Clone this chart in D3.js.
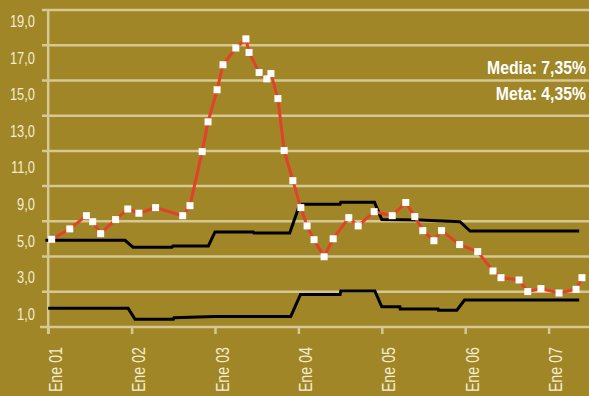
<!DOCTYPE html>
<html>
<head>
<meta charset="utf-8">
<script src="https://cdn.jsdelivr.net/npm/d3@7"></script>
<style>
  body { margin: 0; background: #a08626; }
  svg { display: block; }
</style>
</head>
<body>
<div id="chart"></div>
<script>
// Chart size (browser window)
const W = 589, H = 396;

// Inflation (red line) - months since Ene 01 and values (%)
const inflMonths = [0.5, 3.1, 5.5, 6.4, 7.55, 9.7, 11.45, 13.05, 15.45, 19.35, 20.4, 22.15, 23.0, 24.3,
  25.15, 27.0, 28.45, 28.9, 30.35, 31.45, 32.05, 33.05, 33.95, 35.2, 36.35, 37.25, 38.25, 39.7, 41.0,
  43.25, 44.6, 46.9, 49.5, 51.45, 52.75, 53.9, 55.5, 56.6, 59.2, 61.8, 64.0, 65.15, 67.75, 69.0, 70.9,
  73.5, 75.95, 76.8];
const inflValues = [5.98, 6.57, 7.32, 6.98, 6.30, 7.10, 7.70, 7.46, 7.78, 7.32, 7.89, 10.96, 12.65, 14.47,
  15.89, 16.84, 17.36, 16.59, 15.45, 15.09, 15.39, 13.97, 11.02, 9.31, 7.78, 6.74, 5.96, 4.99, 6.01,
  7.21, 6.74, 7.55, 7.32, 8.07, 7.27, 6.47, 5.90, 6.47, 5.68, 5.28, 4.18, 3.80, 3.67, 3.01, 3.18,
  2.93, 3.14, 3.80];

// Upper limit of the target band
const upperMonths = [-0.4, 11.05, 12.2, 17.8, 17.95, 23.05, 24.0, 29.5, 29.6, 34.75, 36.2, 42.0, 42.1,
  46.95, 48.0, 53.5, 59.25, 60.7, 76.4];
const upperValues = [5.92, 5.92, 5.53, 5.53, 5.6, 5.6, 6.4, 6.4, 6.34, 6.34, 7.97, 7.97, 8.08,
  8.08, 7.1, 7.08, 6.98, 6.45, 6.45];

// Lower limit of the target band
const lowerMonths = [0, 11.5, 12.5, 18.0, 18.1, 24.0, 34.9, 36.3, 42.0, 42.1, 47.0, 48.0, 50.6, 50.65,
  56.1, 56.15, 58.8, 59.9, 76.4];
const lowerValues = [2.06, 2.06, 1.44, 1.44, 1.53, 1.59, 1.6, 2.85, 2.85, 3.05, 3.05, 2.15, 2.15, 2.02,
  2.02, 1.95, 1.95, 2.53, 2.53];

// Axis labels
const yGridValues = [3, 5, 7, 9, 11, 13, 15, 17, 19];
const yLabels = ["19,0", "17,0", "15,0", "13,0", "11,0", "9,0", "5,0", "3,0", "1,0"];
const xTickMonths = [0, 12, 24, 36, 48, 60, 72];
const xLabels = ["Ene 01", "Ene 02", "Ene 03", "Ene 04", "Ene 05", "Ene 06", "Ene 07"];
const notes = ["Media: 7,35%", "Meta: 4,35%"];

const bg = "#a08626", grid = "#d6c893", cream = "#f3ecd2";
const font = "'Liberation Sans', Arial, sans-serif";

const svg = d3.select("#chart").append("svg")
  .attr("width", W).attr("height", H);

svg.append("rect").attr("width", W).attr("height", H).attr("fill", bg);

// Scales
const x = d3.scaleLinear().domain([0, 72]).range([48.2, 548.6]);
const y = d3.scaleLinear().domain([1, 19]).range([327, 10]);

// Gridlines
svg.append("g").selectAll("line")
  .data(yGridValues)
  .join("line")
  .attr("x1", 42).attr("x2", W)
  .attr("y1", d => y(d)).attr("y2", d => y(d))
  .attr("stroke", grid).attr("stroke-width", 2.5);

// X axis with year ticks
const xAxis = d3.axisBottom(x)
  .tickValues(xTickMonths)
  .tickSize(7)
  .tickFormat("");
const gx = svg.append("g")
  .attr("transform", `translate(0,${y(1)})`)
  .call(xAxis);
gx.select(".domain").remove();
gx.selectAll(".tick line").attr("stroke", grid).attr("stroke-width", 2.5);
gx.append("line")
  .attr("x1", 40).attr("x2", W)
  .attr("stroke", grid).attr("stroke-width", 2.5);

// Y axis line
svg.append("line")
  .attr("x1", x(0)).attr("x2", x(0))
  .attr("y1", y(19)).attr("y2", y(1) + 7)
  .attr("stroke", grid).attr("stroke-width", 2.5);

// Rotated year labels (condensed look)
svg.append("g").selectAll("text")
  .data(xTickMonths)
  .join("text")
  .attr("transform", d => `translate(${x(d) + 13.5},347) rotate(-90) scale(0.77,1)`)
  .attr("text-anchor", "end")
  .attr("fill", cream)
  .style("font-family", font)
  .style("font-size", "18.5px")
  .text((d, i) => xLabels[i]);

// Y labels (as printed in the original, spread down the axis)
const yLab = d3.scalePoint().domain(yLabels).range([21, 314]);
svg.append("g").selectAll("text")
  .data(yLabels)
  .join("text")
  .attr("transform", d => `translate(35,${yLab(d)}) scale(0.78,1)`)
  .attr("dy", "0.36em")
  .attr("text-anchor", "end")
  .attr("fill", cream)
  .style("font-family", font)
  .style("font-size", "16.5px")
  .text(d => d);

// Target band lines
const band = d3.line().x(d => x(d[0])).y(d => y(d[1]));
[[upperMonths, upperValues], [lowerMonths, lowerValues]].forEach(([m, v]) => {
  svg.append("path")
    .datum(m.map((d, i) => [d, v[i]]))
    .attr("d", band)
    .attr("fill", "none")
    .attr("stroke", "#000")
    .attr("stroke-width", 3);
});

// Inflation line and markers
const infl = inflMonths.map((d, i) => [d, inflValues[i]]);
svg.append("path")
  .datum(infl)
  .attr("d", band)
  .attr("fill", "none")
  .attr("stroke", "#e5402b")
  .attr("stroke-width", 3)
  .attr("stroke-linejoin", "round");

svg.append("g").selectAll("rect")
  .data(infl)
  .join("rect")
  .attr("x", d => x(d[0]) - 3.5)
  .attr("y", d => y(d[1]) - 3.5)
  .attr("width", 7).attr("height", 7)
  .attr("fill", "#fff");

// Notes top right
svg.append("g").selectAll("text")
  .data(notes)
  .join("text")
  .attr("transform", (d, i) => `translate(586,${74 + i * 26}) scale(0.83,1)`)
  .attr("text-anchor", "end")
  .attr("fill", "#fff")
  .style("font-family", font)
  .style("font-weight", "bold")
  .style("font-size", "19px")
  .text(d => d);
</script>
</body>
</html>
